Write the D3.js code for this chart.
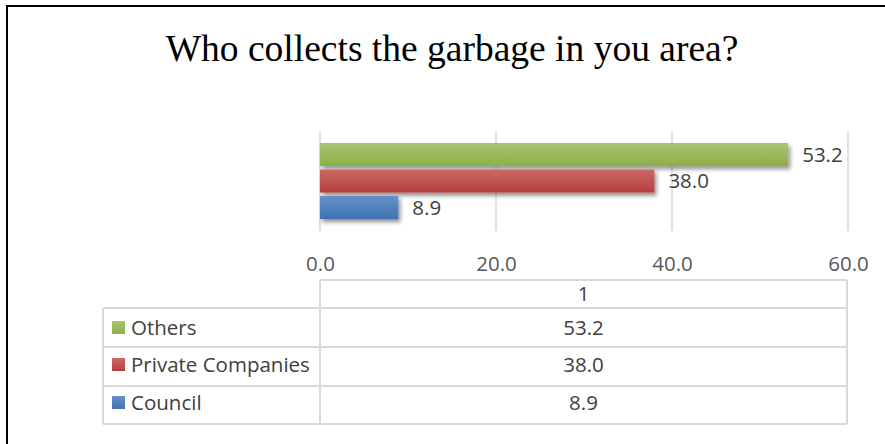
<!DOCTYPE html>
<html><head><meta charset="utf-8">
<script src="https://cdn.jsdelivr.net/npm/d3@7"></script>
<style>html,body{margin:0;padding:0;background:#fff;}svg{display:block;}</style>
</head><body>
<svg id="chart" width="885" height="444"></svg>
<script>
const title = "Who collects the garbage in you area?";
const series = ["Others", "Private Companies", "Council"];
const values = [53.2, 38.0, 8.9];
const categories = ["1"];
const ticks = [0, 20, 40, 60];
const colors = ["#9bbb59", "#c0504d", "#4f81bd"];
const colorsLight = ["#a9c672", "#cc6966", "#6691c9"];
const colorsDark = ["#8cae4a", "#b63f3c", "#3f72b2"];

const svg = d3.select("#chart");
const defs = svg.append("defs");
const f = defs.append("filter").attr("id","sh").attr("x","-10%").attr("y","-30%").attr("width","130%").attr("height","190%");
f.append("feDropShadow").attr("dx",2).attr("dy",3).attr("stdDeviation",2.2).attr("flood-color","#000").attr("flood-opacity",0.45);
series.forEach((s,i)=>{
  const g = defs.append("linearGradient").attr("id","g"+i).attr("x1",0).attr("y1",0).attr("x2",0).attr("y2",1);
  g.append("stop").attr("offset","0%").attr("stop-color",colorsLight[i]);
  g.append("stop").attr("offset","100%").attr("stop-color",colorsDark[i]);
});

// frame
svg.append("line").attr("x1",6).attr("x2",885).attr("y1",6).attr("y2",6).attr("stroke","#000").attr("stroke-width",2);
svg.append("line").attr("x1",7).attr("x2",7).attr("y1",6).attr("y2",444).attr("stroke","#000").attr("stroke-width",2);

// title
svg.append("text").attr("x",452).attr("y",61).attr("text-anchor","middle")
  .attr("font-family","'Liberation Serif','Times New Roman',serif").attr("font-size",37.5).attr("fill","#000").text(title);

const x = d3.scaleLinear().domain([0,60]).range([320,848]);
const plotTop = 131, plotBottom = 231;
const y = d3.scaleBand().domain(series).range([143,219]).paddingInner(0.13);

// gridlines
svg.append("g").selectAll("line").data(ticks).join("line")
  .attr("x1",d=>x(d)).attr("x2",d=>x(d)).attr("y1",plotTop).attr("y2",plotBottom)
  .attr("stroke","#d9d9d9").attr("stroke-width",1.5);

// axis labels
const axis = d3.axisTop(x).tickValues(ticks).tickFormat(d3.format(".1f")).tickSize(0).tickPadding(0);
const ag = svg.append("g").attr("transform","translate(0,271)").call(axis);
ag.select(".domain").remove();
ag.selectAll("text").attr("font-family","'Open Sans',sans-serif").attr("font-size",20.5).attr("fill","#595959").attr("dy",0);

// bars
svg.append("g").selectAll("rect").data(values).join("rect")
  .attr("x",x(0)).attr("y",(d,i)=>y(series[i])).attr("width",d=>x(d)-x(0)).attr("height",y.bandwidth())
  .attr("fill",(d,i)=>"url(#g"+i+")").attr("filter","url(#sh)");

svg.append("g").selectAll("text").data(values).join("text")
  .attr("x",d=>x(d)+14).attr("y",(d,i)=>y(series[i])+y.bandwidth()/2).attr("dy","0.36em")
  .attr("font-family","'Open Sans',sans-serif").attr("font-size",20.5).attr("fill","#404040")
  .text(d=>d3.format(".1f")(d));

// data table
const tbl = svg.append("g");
const rowTops = [280,308,347,386,424];
const tl = "#d9d9d9";
const L = 103, M = 320, R = 847;
tbl.append("line").attr("x1",M).attr("x2",R).attr("y1",rowTops[0]).attr("y2",rowTops[0]).attr("stroke",tl).attr("stroke-width",2);
for (let k=1;k<rowTops.length;k++){
  tbl.append("line").attr("x1",L).attr("x2",R).attr("y1",rowTops[k]).attr("y2",rowTops[k]).attr("stroke",tl).attr("stroke-width",2);
}
tbl.append("line").attr("x1",M).attr("x2",M).attr("y1",rowTops[0]).attr("y2",rowTops[4]).attr("stroke",tl).attr("stroke-width",2);
tbl.append("line").attr("x1",R).attr("x2",R).attr("y1",rowTops[0]).attr("y2",rowTops[4]).attr("stroke",tl).attr("stroke-width",2);
tbl.append("line").attr("x1",L).attr("x2",L).attr("y1",rowTops[1]).attr("y2",rowTops[4]).attr("stroke",tl).attr("stroke-width",2);

const cx = (M+R)/2;
tbl.append("text").attr("x",cx).attr("y",301).attr("text-anchor","middle")
  .attr("font-family","'Open Sans',sans-serif").attr("font-size",20.5).attr("fill","#404040").text(categories[0]);
const baselines = [335,372,410];
series.forEach((s,i)=>{
  tbl.append("rect").attr("x",112).attr("y",baselines[i]-14).attr("width",13).attr("height",13).attr("fill","url(#g"+i+")");
  tbl.append("text").attr("x",131).attr("y",baselines[i])
    .attr("font-family","'Open Sans',sans-serif").attr("font-size",20.5).attr("fill","#404040").text(s);
  tbl.append("text").attr("x",cx).attr("y",baselines[i]).attr("text-anchor","middle")
    .attr("font-family","'Open Sans',sans-serif").attr("font-size",20.5).attr("fill","#404040").text(d3.format(".1f")(values[i]));
});
</script>
</body></html>
